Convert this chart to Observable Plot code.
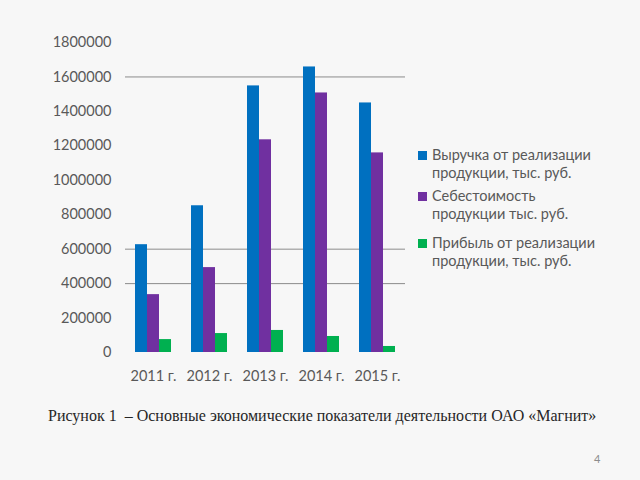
<!DOCTYPE html>
<html><head><meta charset="utf-8">
<script src="https://cdn.jsdelivr.net/npm/d3@7"></script>
<script src="https://cdn.jsdelivr.net/npm/@observablehq/plot@0.6"></script>
<style>
html,body{margin:0;padding:0;background:#f7f7f7;}
#wrap{position:relative;width:640px;height:480px;overflow:hidden;background:#f7f7f7;}
#chart{position:absolute;left:0;top:0;}
.leg{position:absolute;left:418px;font-family:Lato,"Open Sans",sans-serif;font-size:14.5px;color:#595959;line-height:18px;}
.leg .sw{position:absolute;left:0;top:5px;width:9px;height:9px;}
.leg .tx{position:absolute;left:14px;top:0;white-space:nowrap;}
#cap{position:absolute;left:48px;top:407px;font-family:"Liberation Serif","DejaVu Serif",serif;font-size:16px;color:#262626;white-space:nowrap;}
#pg{position:absolute;left:594px;top:452px;font-family:Lato,sans-serif;font-size:11px;color:#8c8c8c;}
</style></head>
<body>
<div id="wrap"><div id="chart"></div><div id="legend"></div>
<div id="cap">Рисунок 1&nbsp; – Основные экономические показатели деятельности ОАО «Магнит»</div>
<div id="pg">4</div></div>
<script>
const years = ["2011", "2012", "2013", "2014", "2015"];
const seriesNames = [
  "Выручка от реализации продукции, тыс. руб.",
  "Себестоимость продукции тыс. руб.",
  "Прибыль от реализации продукции, тыс. руб."
];
const legendLines = [
  ["Выручка от реализации", "продукции, тыс. руб."],
  ["Себестоимость", "продукции тыс. руб."],
  ["Прибыль от реализации", "продукции, тыс. руб."]
];
const revenue = [626000, 852000, 1548000, 1658000, 1449000];
const cost = [336000, 493000, 1235000, 1507000, 1159000];
const profit = [75000, 110000, 128000, 93000, 35000];
const colors = ["#0070C0", "#7030A0", "#00B050"];
const yTicks = [0, 200000, 400000, 600000, 800000, 1000000, 1200000, 1400000, 1600000, 1800000];
const gridValues = [400000, 600000, 1600000];

const seriesValues = [revenue, cost, profit];
const data = [];
years.forEach((y, i) => seriesNames.forEach((s, j) => data.push({year: y, series: s, value: seriesValues[j][i]})));

const chart = Plot.plot({
  width: 640, height: 480,
  marginLeft: 124, marginRight: 235, marginTop: 42, marginBottom: 128,
  style: {background: "transparent", fontFamily: "Lato, 'Open Sans', sans-serif", fontSize: "14.5px", color: "#595959"},
  fx: {domain: years, padding: 0, label: null, tickFormat: d => d + " г.", tickSize: 0, tickPadding: 18},
  x: {domain: seriesNames, axis: null, paddingInner: 0, paddingOuter: 0.77},
  y: {domain: [0, 1800000], ticks: yTicks, tickFormat: d3.format("d"), tickSize: 0, tickPadding: 14, label: null},
  color: {domain: seriesNames, range: colors},
  marks: [
    Plot.ruleY(gridValues, {stroke: "#8c8c8c", strokeWidth: 1, strokeOpacity: 1}),
    Plot.barY(data, {fx: "year", x: "series", y: "value", fill: "series", inset: 0})
  ]
});
document.getElementById("chart").appendChild(chart);

const legTops = [146, 187, 234];
const leg = document.getElementById("legend");
legendLines.forEach((lines, i) => {
  const d = document.createElement("div");
  d.className = "leg";
  d.style.top = legTops[i] + "px";
  d.innerHTML = `<div class="sw" style="background:${colors[i]}"></div><div class="tx">${lines[0]}<br>${lines[1]}</div>`;
  leg.appendChild(d);
});
</script>
</body></html>
